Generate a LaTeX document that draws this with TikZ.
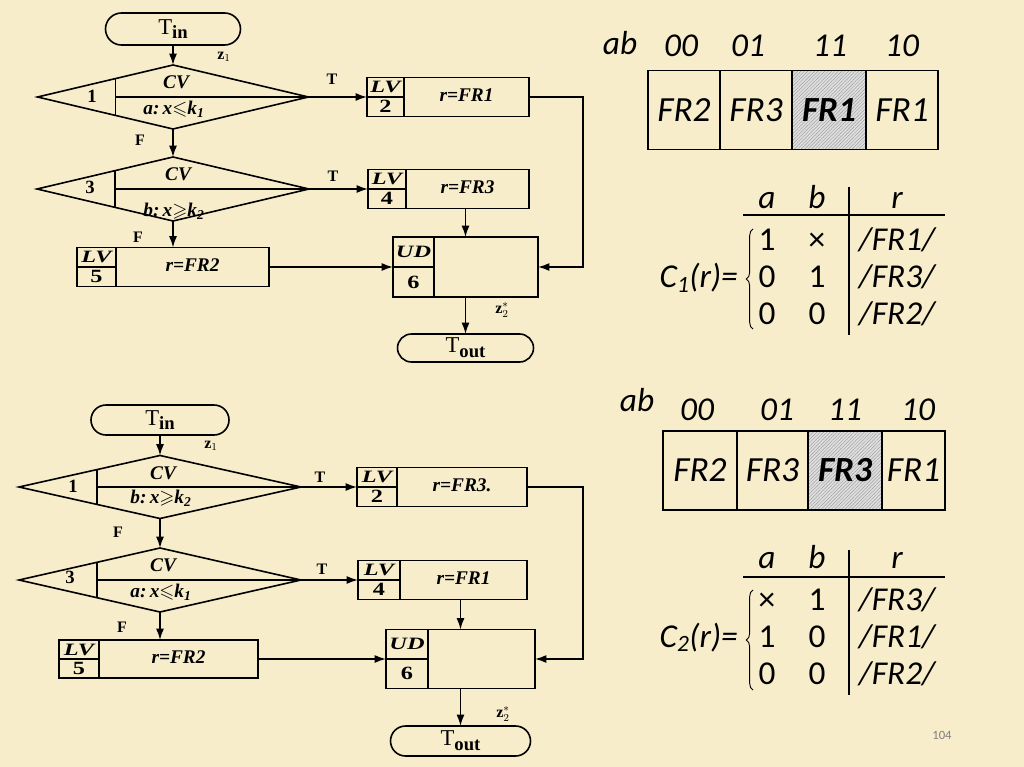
\documentclass[tikz,border=0pt]{standalone}
\usepackage{amssymb}
\usepackage{graphicx}
\usepackage{fontspec}
\setmainfont{Liberation Serif}
\newfontfamily\calfont{Carlito}
\usetikzlibrary{shapes.geometric,arrows.meta,calc,patterns.meta,decorations.pathreplacing}
\definecolor{bgc}{RGB}{247,237,203}
\tikzset{
  ln/.style={line width=1.2pt},
  arr/.style={line width=1.2pt,-{Latex[length=8.5pt,width=6pt]}},
  box/.style={draw,line width=1.2pt,inner sep=0pt,outer sep=0pt},
  term/.style={draw,line width=1.2pt,inner sep=0pt,outer sep=0pt},
  dia/.style={diamond,draw,line width=1.2pt,inner sep=0pt,outer sep=0pt},
  fc/.style={inner sep=0pt,font=\fontsize{14.5}{16}\selectfont\bfseries\itshape},
  lbl/.style={inner sep=0pt,font=\fontsize{13}{14}\selectfont\bfseries\itshape},
  num/.style={inner sep=0pt,font=\fontsize{14}{15}\selectfont\bfseries},
  tf/.style={inner sep=0pt,font=\fontsize{12}{13}\selectfont\bfseries},
  zl/.style={inner sep=0pt,font=\fontsize{12}{13}\selectfont},
  kt/.style={inner sep=0pt,anchor=base,font=\calfont\itshape\fontsize{25}{28}\selectfont},
  ku/.style={inner sep=0pt,anchor=base,font=\calfont\fontsize{25}{28}\selectfont},
  cell/.style={draw,line width=0.9pt,inner sep=0pt,outer sep=0pt,minimum height=59.25pt,font=\calfont\itshape\fontsize{26.5}{28}\selectfont},
  hl/.style={preaction={fill=gray!25},pattern={Lines[angle=45,distance=1.8pt,line width=0.35pt]},pattern color=gray!75},
}
\newcommand\lvbox[8]{%
  \node[box,minimum width=#3,minimum height=#4] (#1) at (#2) {};
  \draw[ln] ($(#1.north west)+(#5,0)$) -- ($(#1.south west)+(#5,0)$);
  \draw[ln] (#1.west) -- ($(#1.west)+(#5,0)$);
  \node[lbl] (#1-l) at ($(#1.north west)!0.5!(#1.west)+(#5/2,0)$) {\scalebox{1.4}[1]{#6}};
  \node[num] (#1-n) at ($(#1.south west)!0.5!(#1.west)+(#5/2,0)$) {\scalebox{1.3}[1]{#7}};
  \node[fc] (#1-t) at ($(#1.west)!0.5!(#1.east)+(#5/2,-2)$) {#8};
}
\newcommand\dialines[3]{%
  \draw[ln] ($(#1.west)+(#2,-#3)$) -- ($(#1.west)+(#2,#3)$);
  \draw[ln] ($(#1.west)+(#2,0)$) -- (#1.east);
}
\newcommand\tsub[1]{{\fontsize{17}{18}\selectfont T\raisebox{-0.45ex}{\fontsize{14}{15}\selectfont\bfseries #1}}}
\begin{document}
\begin{tikzpicture}[x=0.75pt,y=-0.75pt]
\fill[bgc] (0,0) rectangle (1024,767);
\useasboundingbox (0,0) rectangle (1024,767);

% ---------- flowchart 1 ----------
\node[term,minimum width=101.25pt,minimum height=24pt,rounded corners=12pt] (tin1) at (173,29) {\tsub{in}};
\node[dia,minimum width=203.25pt,minimum height=48pt] (d1) at (173,97) {};
\dialines{d1}{78}{18.4}
\node[num] (d1-n) at (92,96) {1};
\node[fc] (d1-t) at (176,82) {CV};
\node[fc] (d1-c) at (174,109) {a:\,x\(\leqslant\)k\textsubscript{1}};
\node[dia,minimum width=204pt,minimum height=48pt] (d3) at (173,189) {};
\dialines{d3}{78}{18.4}
\node[num] (d3-n) at (90,187) {3};
\node[fc] (d3-t) at (178,174) {CV};
\node[fc] (d3-c) at (174,211) {b:\,x\(\geqslant\)k\textsubscript{2}};
\lvbox{lv2}{448,97}{121.5pt}{29.25pt}{37}{LV}{2}{r=FR1}
\lvbox{lv4}{448.5,189}{120.75pt}{29.25pt}{38}{LV}{4}{r=FR3}
\lvbox{lv5}{173,267}{144pt}{29.25pt}{39}{LV}{5}{r=FR2}
\lvbox{ud6}{465.5,267}{108.75pt}{45pt}{41}{UD}{6}{}
\node[term,minimum width=102pt,minimum height=21pt,rounded corners=10.5pt] (tout1) at (465.5,348) {\tsub{out}};

\draw[arr] (tin1.south) -- (d1.north);
\draw[arr] (d1.south) -- (d3.north);
\draw[arr] (d3.south) -- (lv5.north);
\draw[arr] (d1.east) -- (lv2.west);
\draw[arr] (d3.east) -- (lv4.west);
\draw[arr] (lv5.east) -- (ud6.west);
\draw[arr] (lv4.south -| ud6.north) -- (ud6.north);
\draw[arr] (lv2.east) -- ++(54,0) |- (ud6.east);
\draw[arr] (ud6.south) -- (tout1.north);

\node[tf] (t1) at (332,79) {T};
\node[tf] (t2) at (333,176) {T};
\node[tf] (f1) at (140,140) {F};
\node[tf] (f2) at (138,237) {F};
\node[zl] (z1) at (224,57) {\(\mathbf{z}_1\)};
\node[zl] (z2) at (502,310) {\(\mathbf{z}_2^{*}\)};

% ---------- flowchart 2 ----------
\node[term,minimum width=103.5pt,minimum height=22.5pt,rounded corners=11.25pt] (tin2) at (160,420) {\tsub{in}};
\node[dia,minimum width=211.5pt,minimum height=47.25pt] (e1) at (160,487) {};
\dialines{e1}{78}{17.5}
\node[num] (e1-n) at (73,486) {1};
\node[fc] (e1-t) at (163,473) {CV};
\node[fc] (e1-c) at (161,498) {b:\,x\(\geqslant\)k\textsubscript{2}};
\node[dia,minimum width=211.5pt,minimum height=48pt] (e3) at (160,580) {};
\dialines{e3}{78}{17.7}
\node[num] (e3-n) at (70,577) {3};
\node[fc] (e3-t) at (163,565) {CV};
\node[fc] (e3-c) at (161,592) {a:\,x\(\leqslant\)k\textsubscript{1}};
\lvbox{lw2}{442,487}{127.5pt}{29.25pt}{40}{LV}{2}{r=FR3.}
\lvbox{lw4}{442.5,580}{126.75pt}{29.25pt}{42}{LV}{4}{r=FR1}
\lvbox{lw5}{158.5,659}{149.25pt}{28.5pt}{40}{LV}{5}{r=FR2}
\lvbox{uw6}{460.5,659}{111.75pt}{44.25pt}{42}{UD}{6}{}
\node[term,minimum width=105pt,minimum height=22.5pt,rounded corners=11.25pt] (tout2) at (460.5,741) {\tsub{out}};

\draw[arr] (tin2.south) -- (e1.north);
\draw[arr] (e1.south) -- (e3.north);
\draw[arr] (e3.south) -- (e3.south |- lw5.north);
\draw[arr] (e1.east) -- (lw2.west);
\draw[arr] (e3.east) -- (lw4.west);
\draw[arr] (lw5.east) -- (uw6.west);
\draw[arr] (lw4.south -| uw6.north) -- (uw6.north);
\draw[arr] (lw2.east) -- ++(56,0) |- (uw6.east);
\draw[arr] (uw6.south) -- (tout2.north);

\node[tf] (t3) at (320,477) {T};
\node[tf] (t4) at (322,569) {T};
\node[tf] (f3) at (118,532) {F};
\node[tf] (f4) at (122,627) {F};
\node[zl] (z3) at (211,446) {\(\mathbf{z}_1\)};
\node[zl] (z4) at (503,714) {\(\mathbf{z}_2^{*}\)};

% ---------- map 1 ----------
\node[kt] (ab1) at (620,55) {ab};
\node[kt] (h1a) at (681,56.5) {00};
\node[kt] (h1b) at (748,56.5) {01};
\node[kt] (h1c) at (830,56.5) {11};
\node[kt] (h1d) at (902,56.5) {10};
\node[cell,minimum width=54pt] (k1a) at (684,110) {FR2};
\node[cell,minimum width=54pt] (k1b) at (756,110) {FR3};
\node[cell,hl,minimum width=55.5pt] (k1c) at (829,110) {\bfseries FR1};
\node[cell,minimum width=54pt] (k1d) at (902,110) {FR1};

% ---------- table C1 ----------
\node[kt] (ca1) at (767,208) {a};
\node[kt] (cb1) at (817,208) {b};
\node[kt] (cr1) at (897,208) {r};
\draw[line width=1pt] (743,215) coordinate (hl1a) -- (945,215) coordinate (hl1b);
\draw[line width=1.3pt] (849,187) coordinate (vl1a) -- (849,335) coordinate (vl1b);
\node[ku] (r11) at (767,250.5) {1};
\node[ku] (r12) at (817,250.5) {×};
\node[kt] (r13) at (897,250.5) {/FR1/};
\node[ku] (r21) at (767,287.5) {0};
\node[ku] (r22) at (817,287.5) {1};
\node[kt] (r23) at (897,287.5) {/FR3/};
\node[ku] (r31) at (767,324.5) {0};
\node[ku] (r32) at (817,324.5) {0};
\node[kt] (r33) at (897,324.5) {/FR2/};
\draw[line width=0.7pt,decorate,decoration={brace,amplitude=5pt}] (753,329) coordinate (br1a) -- (753,229) coordinate (br1b);
\node[kt,anchor=base east] (c1) at (738,287.5) {C\textsubscript{1}(r)=};

% ---------- map 2 ----------
\node[kt] (ab2) at (637,411.5) {ab};
\node[kt] (h2a) at (697,420) {00};
\node[kt] (h2b) at (777,420) {01};
\node[kt] (h2c) at (845,420) {11};
\node[kt] (h2d) at (918,420) {10};
\node[cell,minimum width=55.5pt] (k2a) at (700,470.5) {FR2};
\node[cell,minimum width=53.25pt] (k2b) at (772.5,470.5) {FR3};
\node[cell,hl,minimum width=55.5pt] (k2c) at (845,470.5) {\bfseries FR3};
\node[cell,minimum width=47.25pt] (k2d) at (913.5,470.5) {FR1};

% ---------- table C2 ----------
\node[kt] (ca2) at (767,568) {a};
\node[kt] (cb2) at (817,568) {b};
\node[kt] (cr2) at (897,568) {r};
\draw[line width=1pt] (743,577) coordinate (hl2a) -- (945,577) coordinate (hl2b);
\draw[line width=1.3pt] (849,550) coordinate (vl2a) -- (849,695) coordinate (vl2b);
\node[ku] (s11) at (767,610) {×};
\node[ku] (s12) at (817,610) {1};
\node[kt] (s13) at (897,610) {/FR3/};
\node[ku] (s21) at (767,647) {1};
\node[ku] (s22) at (817,647) {0};
\node[kt] (s23) at (897,647) {/FR1/};
\node[ku] (s31) at (767,684) {0};
\node[ku] (s32) at (817,684) {0};
\node[kt] (s33) at (897,684) {/FR2/};
\draw[line width=0.7pt,decorate,decoration={brace,amplitude=5pt}] (753,690) coordinate (br2a) -- (753,590) coordinate (br2b);
\node[kt,anchor=base east] (c2) at (738,647) {C\textsubscript{2}(r)=};

\node[inner sep=0pt,text=gray,font=\calfont\fontsize{9.5}{11}\selectfont] (pg) at (942,735) {104};
\end{tikzpicture}
\end{document}
